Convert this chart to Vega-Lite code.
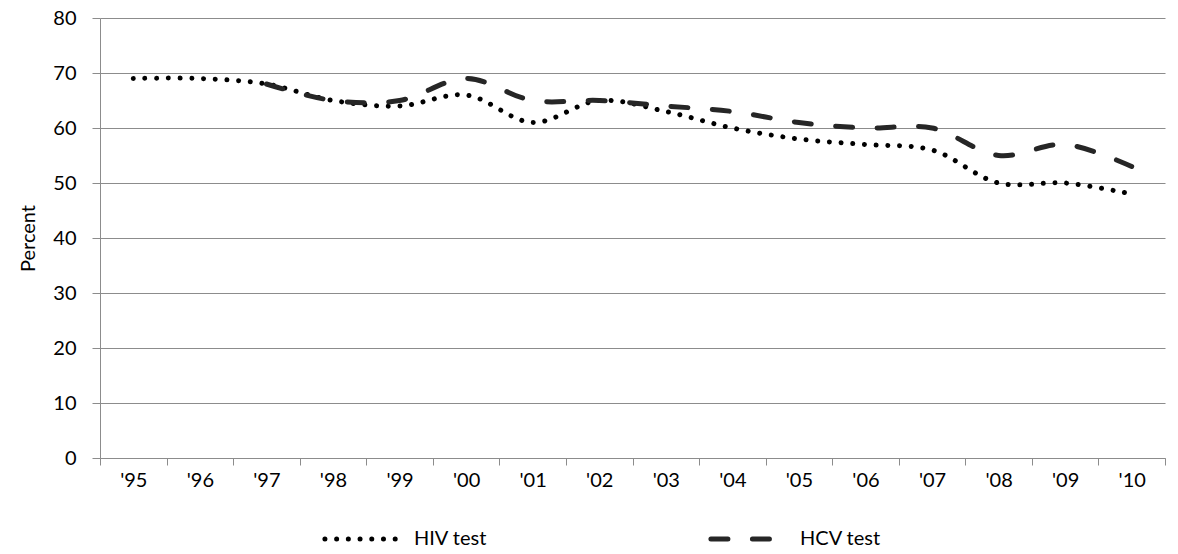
{
  "$schema": "https://vega.github.io/schema/vega-lite/v6.json",
  "width": 1065,
  "height": 440,
  "autosize": {"type": "none"},
  "padding": {"left": 100, "top": 18, "right": 13, "bottom": 96},
  "background": "white",
  "config": {
    "view": {"stroke": null},
    "font": "Lato",
    "axis": {"labelFont": "Lato", "titleFont": "Lato", "labelColor": "#000", "titleColor": "#000"}
  },
  "data": {
    "values": [
      {"year": "'95", "series": "HIV test", "value": 69},
      {"year": "'96", "series": "HIV test", "value": 69},
      {"year": "'97", "series": "HIV test", "value": 68},
      {"year": "'98", "series": "HIV test", "value": 65},
      {"year": "'99", "series": "HIV test", "value": 64},
      {"year": "'00", "series": "HIV test", "value": 66},
      {"year": "'01", "series": "HIV test", "value": 61},
      {"year": "'02", "series": "HIV test", "value": 65},
      {"year": "'03", "series": "HIV test", "value": 63},
      {"year": "'04", "series": "HIV test", "value": 60},
      {"year": "'05", "series": "HIV test", "value": 58},
      {"year": "'06", "series": "HIV test", "value": 57},
      {"year": "'07", "series": "HIV test", "value": 56},
      {"year": "'08", "series": "HIV test", "value": 50},
      {"year": "'09", "series": "HIV test", "value": 50},
      {"year": "'10", "series": "HIV test", "value": 48},
      {"year": "'97", "series": "HCV test", "value": 68},
      {"year": "'98", "series": "HCV test", "value": 65},
      {"year": "'99", "series": "HCV test", "value": 65},
      {"year": "'00", "series": "HCV test", "value": 69},
      {"year": "'01", "series": "HCV test", "value": 65},
      {"year": "'02", "series": "HCV test", "value": 65},
      {"year": "'03", "series": "HCV test", "value": 64},
      {"year": "'04", "series": "HCV test", "value": 63},
      {"year": "'05", "series": "HCV test", "value": 61},
      {"year": "'06", "series": "HCV test", "value": 60},
      {"year": "'07", "series": "HCV test", "value": 60},
      {"year": "'08", "series": "HCV test", "value": 55},
      {"year": "'09", "series": "HCV test", "value": 57},
      {"year": "'10", "series": "HCV test", "value": 53}
    ]
  },
  "mark": {"type": "line", "interpolate": "catmull-rom", "strokeWidth": 5, "strokeCap": "round"},
  "encoding": {
    "x": {
      "field": "year", "type": "ordinal",
      "sort": ["'95","'96","'97","'98","'99","'00","'01","'02","'03","'04","'05","'06","'07","'08","'09","'10"],
      "scale": {"paddingInner": 0, "paddingOuter": 0},
      "axis": {
        "title": null, "labelAngle": 0, "labelFontSize": 20, "labelPadding": 5,
        "tickBand": "extent", "tickSize": 7, "tickColor": "#8c8c8c",
        "domainColor": "#8c8c8c", "grid": false
      }
    },
    "y": {
      "field": "value", "type": "quantitative",
      "scale": {"domain": [0, 80], "nice": false},
      "axis": {
        "title": "Percent", "titleFontSize": 20, "titleFontWeight": "normal", "titlePadding": 14,
        "values": [0,10,20,30,40,50,60,70,80], "labelFontSize": 20, "labelPadding": 16,
        "tickSize": 8, "tickColor": "#8c8c8c", "domainColor": "#8c8c8c",
        "grid": true, "gridColor": "#8c8c8c", "gridWidth": 1.2
      }
    },
    "color": {
      "field": "series", "type": "nominal",
      "scale": {"domain": ["HIV test", "HCV test"], "range": ["#000000", "#262626"]},
      "legend": {
        "title": null, "orient": "none", "legendX": 222, "legendY": 480,
        "direction": "horizontal", "symbolType": "stroke", "symbolSize": 5800,
        "symbolStrokeWidth": 5, "labelFontSize": 20, "labelFont": "Lato", "labelColor": "#000",
        "columnPadding": 212, "labelOffset": 10,
        "encode": {"symbols": {"update": {"strokeCap": {"value": "round"}}}}
      }
    },
    "strokeDash": {
      "field": "series", "type": "nominal",
      "scale": {"domain": ["HIV test", "HCV test"], "range": [[0.01, 11.7], [17, 24.5]]},
      "legend": {
        "title": null, "orient": "none", "legendX": 222, "legendY": 480,
        "direction": "horizontal", "symbolType": "stroke", "symbolSize": 5800,
        "symbolStrokeWidth": 5, "labelFontSize": 20, "labelFont": "Lato", "labelColor": "#000",
        "columnPadding": 212, "labelOffset": 10,
        "encode": {"symbols": {"update": {"strokeCap": {"value": "round"}}}}
      }
    }
  }
}
